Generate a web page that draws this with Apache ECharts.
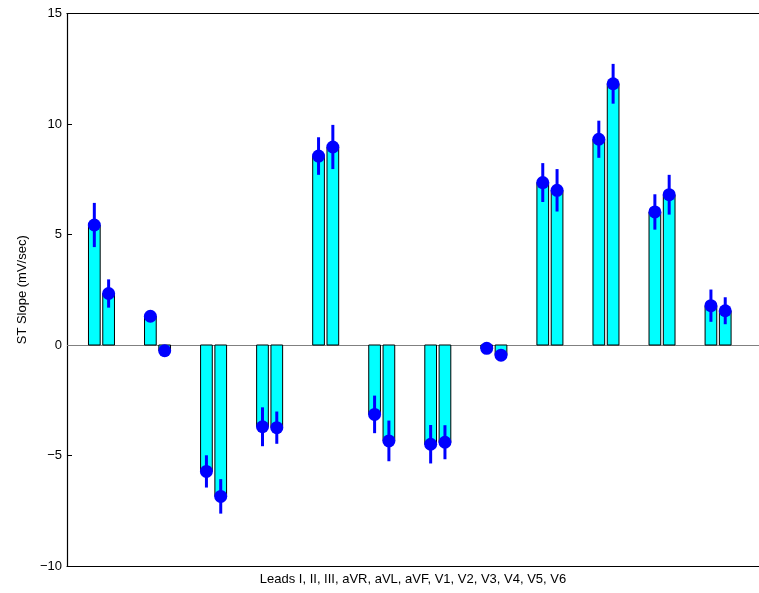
<!DOCTYPE html>
<html>
<head>
<meta charset="utf-8">
<title>ST Slope by Lead</title>
<script src="https://cdn.jsdelivr.net/npm/echarts@6/dist/echarts.min.js"></script>
<style>
  html, body { margin: 0; padding: 0; background: #fff; overflow: hidden; }
  #chart { width: 759px; height: 593px; }
</style>
</head>
<body>
<div id="chart"></div>
<script>
// Twelve ECG leads, two measurements per lead
const leads = ['I', 'II', 'III', 'aVR', 'aVL', 'aVF', 'V1', 'V2', 'V3', 'V4', 'V5', 'V6'];

// Mean ST slope (mV/sec), first and second measurement
const slopeA = [5.43, 1.30, -5.72, -3.70, 8.55, -3.14, -4.49, -0.15, 7.35, 9.31, 6.02, 1.78];
const slopeB = [2.33, -0.26, -6.85, -3.74, 8.96, -4.34, -4.40, -0.46, 7.00, 11.82, 6.80, 1.55];

// Half-length of the error bars
const errA = [1.00, 0.15, 0.73, 0.88, 0.85, 0.85, 0.87, 0.15, 0.88, 0.84, 0.80, 0.73];
const errB = [0.64, 0.15, 0.78, 0.73, 1.00, 0.92, 0.77, 0.15, 0.96, 0.90, 0.90, 0.61];

// Y axis ticks
const yTicks = [-10, -5, 0, 5, 10, 15];

const X_MIN = 0.385, X_MAX = 12.73;
const BAR_W = 11.7;      // bar width in px
const HALF_SPACE = 7.15; // px from group centre to each bar centre
const FONT = 'Liberation Sans, Arial, sans-serif';

function makeSeries(name, values, errs, side) {
  const data = values.map((v, i) => [i + 1, v, errs[i]]);
  return {
    name: name,
    type: 'custom',
    xAxisIndex: 0,
    data: data,
    encode: { x: 0, y: 1 },
    renderItem: function (params, api) {
      const x = api.value(0);
      const v = api.value(1);
      const e = api.value(2);
      const base = api.coord([x, 0]);
      const top = api.coord([x, v]);
      const cx = base[0] + side * HALF_SPACE;
      const hi = api.coord([x, v + e]);
      const lo = api.coord([x, v - e]);
      const y0 = Math.min(base[1], top[1]);
      const h = Math.abs(base[1] - top[1]);
      return {
        type: 'group',
        children: [
          {
            type: 'rect',
            shape: { x: cx - BAR_W / 2, y: y0, width: BAR_W, height: h },
            style: { fill: '#00ffff', stroke: '#000000', lineWidth: 1 }
          },
          {
            type: 'line',
            shape: { x1: cx, y1: hi[1], x2: cx, y2: lo[1] },
            style: { stroke: '#0000ff', lineWidth: 3 }
          },
          {
            type: 'circle',
            shape: { cx: cx, cy: top[1], r: 6.5 },
            style: { fill: '#0000ff' }
          }
        ]
      };
    },
    z: 3
  };
}

const chart = echarts.init(document.getElementById('chart'), null, { renderer: 'canvas' });

const seriesA = makeSeries('A', slopeA, errA, -1);
seriesA.markLine = {
  silent: true,
  symbol: 'none',
  label: { show: false },
  lineStyle: { color: '#808080', width: 1, type: 'solid' },
  data: [{ yAxis: 0 }],
  z: 1
};

chart.setOption({
  animation: false,
  backgroundColor: '#ffffff',
  textStyle: { fontFamily: FONT },
  grid: { left: 67, top: 13.5, right: 0, bottom: 27, show: false },
  xAxis: [
    {
      type: 'value',
      min: X_MIN,
      max: X_MAX,
      position: 'bottom',
      name: 'Leads ' + leads.join(', '),
      nameLocation: 'middle',
      nameGap: 7,
      nameTextStyle: { fontSize: 13, color: '#000', fontFamily: FONT, verticalAlign: 'top' },
      axisLine: { show: true, onZero: false, lineStyle: { color: '#000', width: 1.2 } },
      axisTick: { show: false },
      axisLabel: { show: false },
      splitLine: { show: false }
    },
    {
      // top frame line
      type: 'value',
      min: X_MIN,
      max: X_MAX,
      position: 'top',
      axisLine: { show: true, onZero: false, lineStyle: { color: '#000', width: 1.2 } },
      axisTick: { show: false },
      axisLabel: { show: false },
      splitLine: { show: false }
    }
  ],
  yAxis: {
    type: 'value',
    min: yTicks[0],
    max: yTicks[yTicks.length - 1],
    interval: 5,
    name: 'ST Slope (mV/sec)',
    nameLocation: 'middle',
    nameGap: 35,
    nameRotate: 90,
    nameTextStyle: { fontSize: 13, color: '#000', fontFamily: FONT },
    axisLine: { show: true, onZero: false, lineStyle: { color: '#000', width: 1.2 } },
    axisTick: { show: true, inside: true, length: 5, lineStyle: { color: '#000', width: 1 } },
    axisLabel: {
      show: true, fontSize: 13, color: '#000', margin: 5, fontFamily: FONT,
      formatter: function (v) { return v < 0 ? '\u2212' + Math.abs(v) : String(v); }
    },
    splitLine: { show: false }
  },
  series: [seriesA, makeSeries('B', slopeB, errB, 1)]
});
</script>
</body>
</html>
